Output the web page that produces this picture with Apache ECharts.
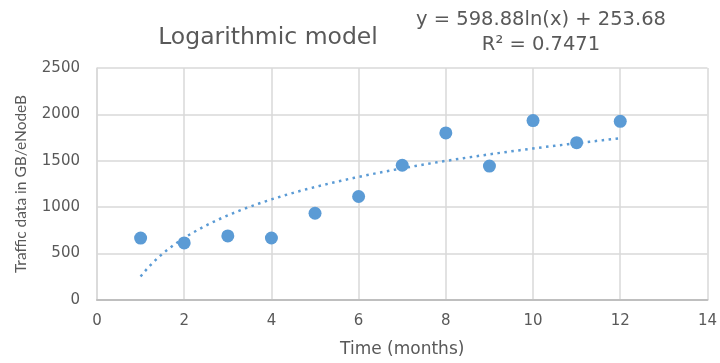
<!DOCTYPE html>
<html>
<head>
<meta charset="utf-8">
<script src="https://cdn.jsdelivr.net/npm/echarts@6/dist/echarts.min.js"></script>
<style>
  html, body { margin: 0; padding: 0; background: #fff; }
  #chart { width: 720px; height: 363px; }
</style>
</head>
<body>
<div id="chart"></div>
<script>
// Monthly traffic per eNodeB (GB)
const months = [1, 2, 3, 4, 5, 6, 7, 8, 9, 10, 11, 12];
const traffic = [667, 615, 690, 668, 935, 1115, 1452, 1800, 1443, 1933, 1695, 1925];

// Logarithmic trendline coefficients: y = a*ln(x) + b
const trendA = 598.88;
const trendB = 253.68;
const trendR2 = 0.7471;

const xTicks = [0, 2, 4, 6, 8, 10, 12, 14];
const yTicks = [0, 500, 1000, 1500, 2000, 2500];

// Sample the fitted curve across the data range
const trendPoints = [];
for (let x = months[0]; x <= months[months.length - 1] + 1e-9; x += 0.1) {
  trendPoints.push([x, trendA * Math.log(x) + trendB]);
}

const textColor = '#595959';
const gridColor = '#d9d9d9';
const blue = '#5b9bd5';
const wideFont = '"DejaVu Sans", "Open Sans", sans-serif';
const narrowFont = 'Lato, "Open Sans", sans-serif';

const chart = echarts.init(document.getElementById('chart'), null, { renderer: 'canvas' });
chart.setOption({
  animation: false,
  backgroundColor: '#fff',
  textStyle: { fontFamily: wideFont },
  title: [
    {
      text: 'Logarithmic model',
      left: 263, top: 21, textAlign: 'center',
      textStyle: { fontFamily: wideFont, fontSize: 23.5, fontWeight: 'normal', color: textColor }
    },
    {
      text: 'y = ' + trendA + 'ln(x) + ' + trendB + '\nR² = ' + trendR2,
      left: 536, top: 2, textAlign: 'center',
      textStyle: { fontFamily: wideFont, fontSize: 19.5, fontWeight: 'normal', color: textColor, lineHeight: 25, align: 'center' }
    }
  ],
  grid: { left: 97, right: 12, top: 68, bottom: 61, containLabel: false },
  xAxis: {
    type: 'value', min: xTicks[0], max: xTicks[xTicks.length - 1], interval: 2,
    name: 'Time (months)', nameLocation: 'middle', nameGap: 41,
    nameTextStyle: { fontFamily: wideFont, fontSize: 17, color: textColor },
    axisLine: { show: true, lineStyle: { color: '#bfbfbf', width: 2 } },
    axisTick: { show: false },
    axisLabel: { fontFamily: wideFont, fontSize: 15, color: textColor, margin: 14 },
    splitLine: { show: true, lineStyle: { color: gridColor, width: 1.5 } }
  },
  yAxis: {
    type: 'value', min: yTicks[0], max: yTicks[yTicks.length - 1], interval: 500,
    name: 'Traffic data in GB/eNodeB', nameLocation: 'middle', nameGap: 68, nameRotate: 90,
    nameTextStyle: { fontFamily: narrowFont, fontSize: 15.5, color: textColor },
    axisLine: { show: true, lineStyle: { color: gridColor, width: 1.5 } },
    axisTick: { show: false },
    axisLabel: { fontFamily: wideFont, fontSize: 15, color: textColor, margin: 17, formatter: v => String(v) },
    splitLine: { show: true, lineStyle: { color: gridColor, width: 1.5 } }
  },
  series: [
    {
      type: 'line',
      data: trendPoints,
      showSymbol: false,
      smooth: false,
      lineStyle: { color: blue, width: 2.5, type: [2.5, 4.5] },
      z: 2
    },
    {
      type: 'scatter',
      data: months.map((m, i) => [m, traffic[i]]),
      symbol: 'circle',
      symbolSize: 13,
      itemStyle: { color: blue, opacity: 1 },
      z: 3
    }
  ]
});
</script>
</body>
</html>
